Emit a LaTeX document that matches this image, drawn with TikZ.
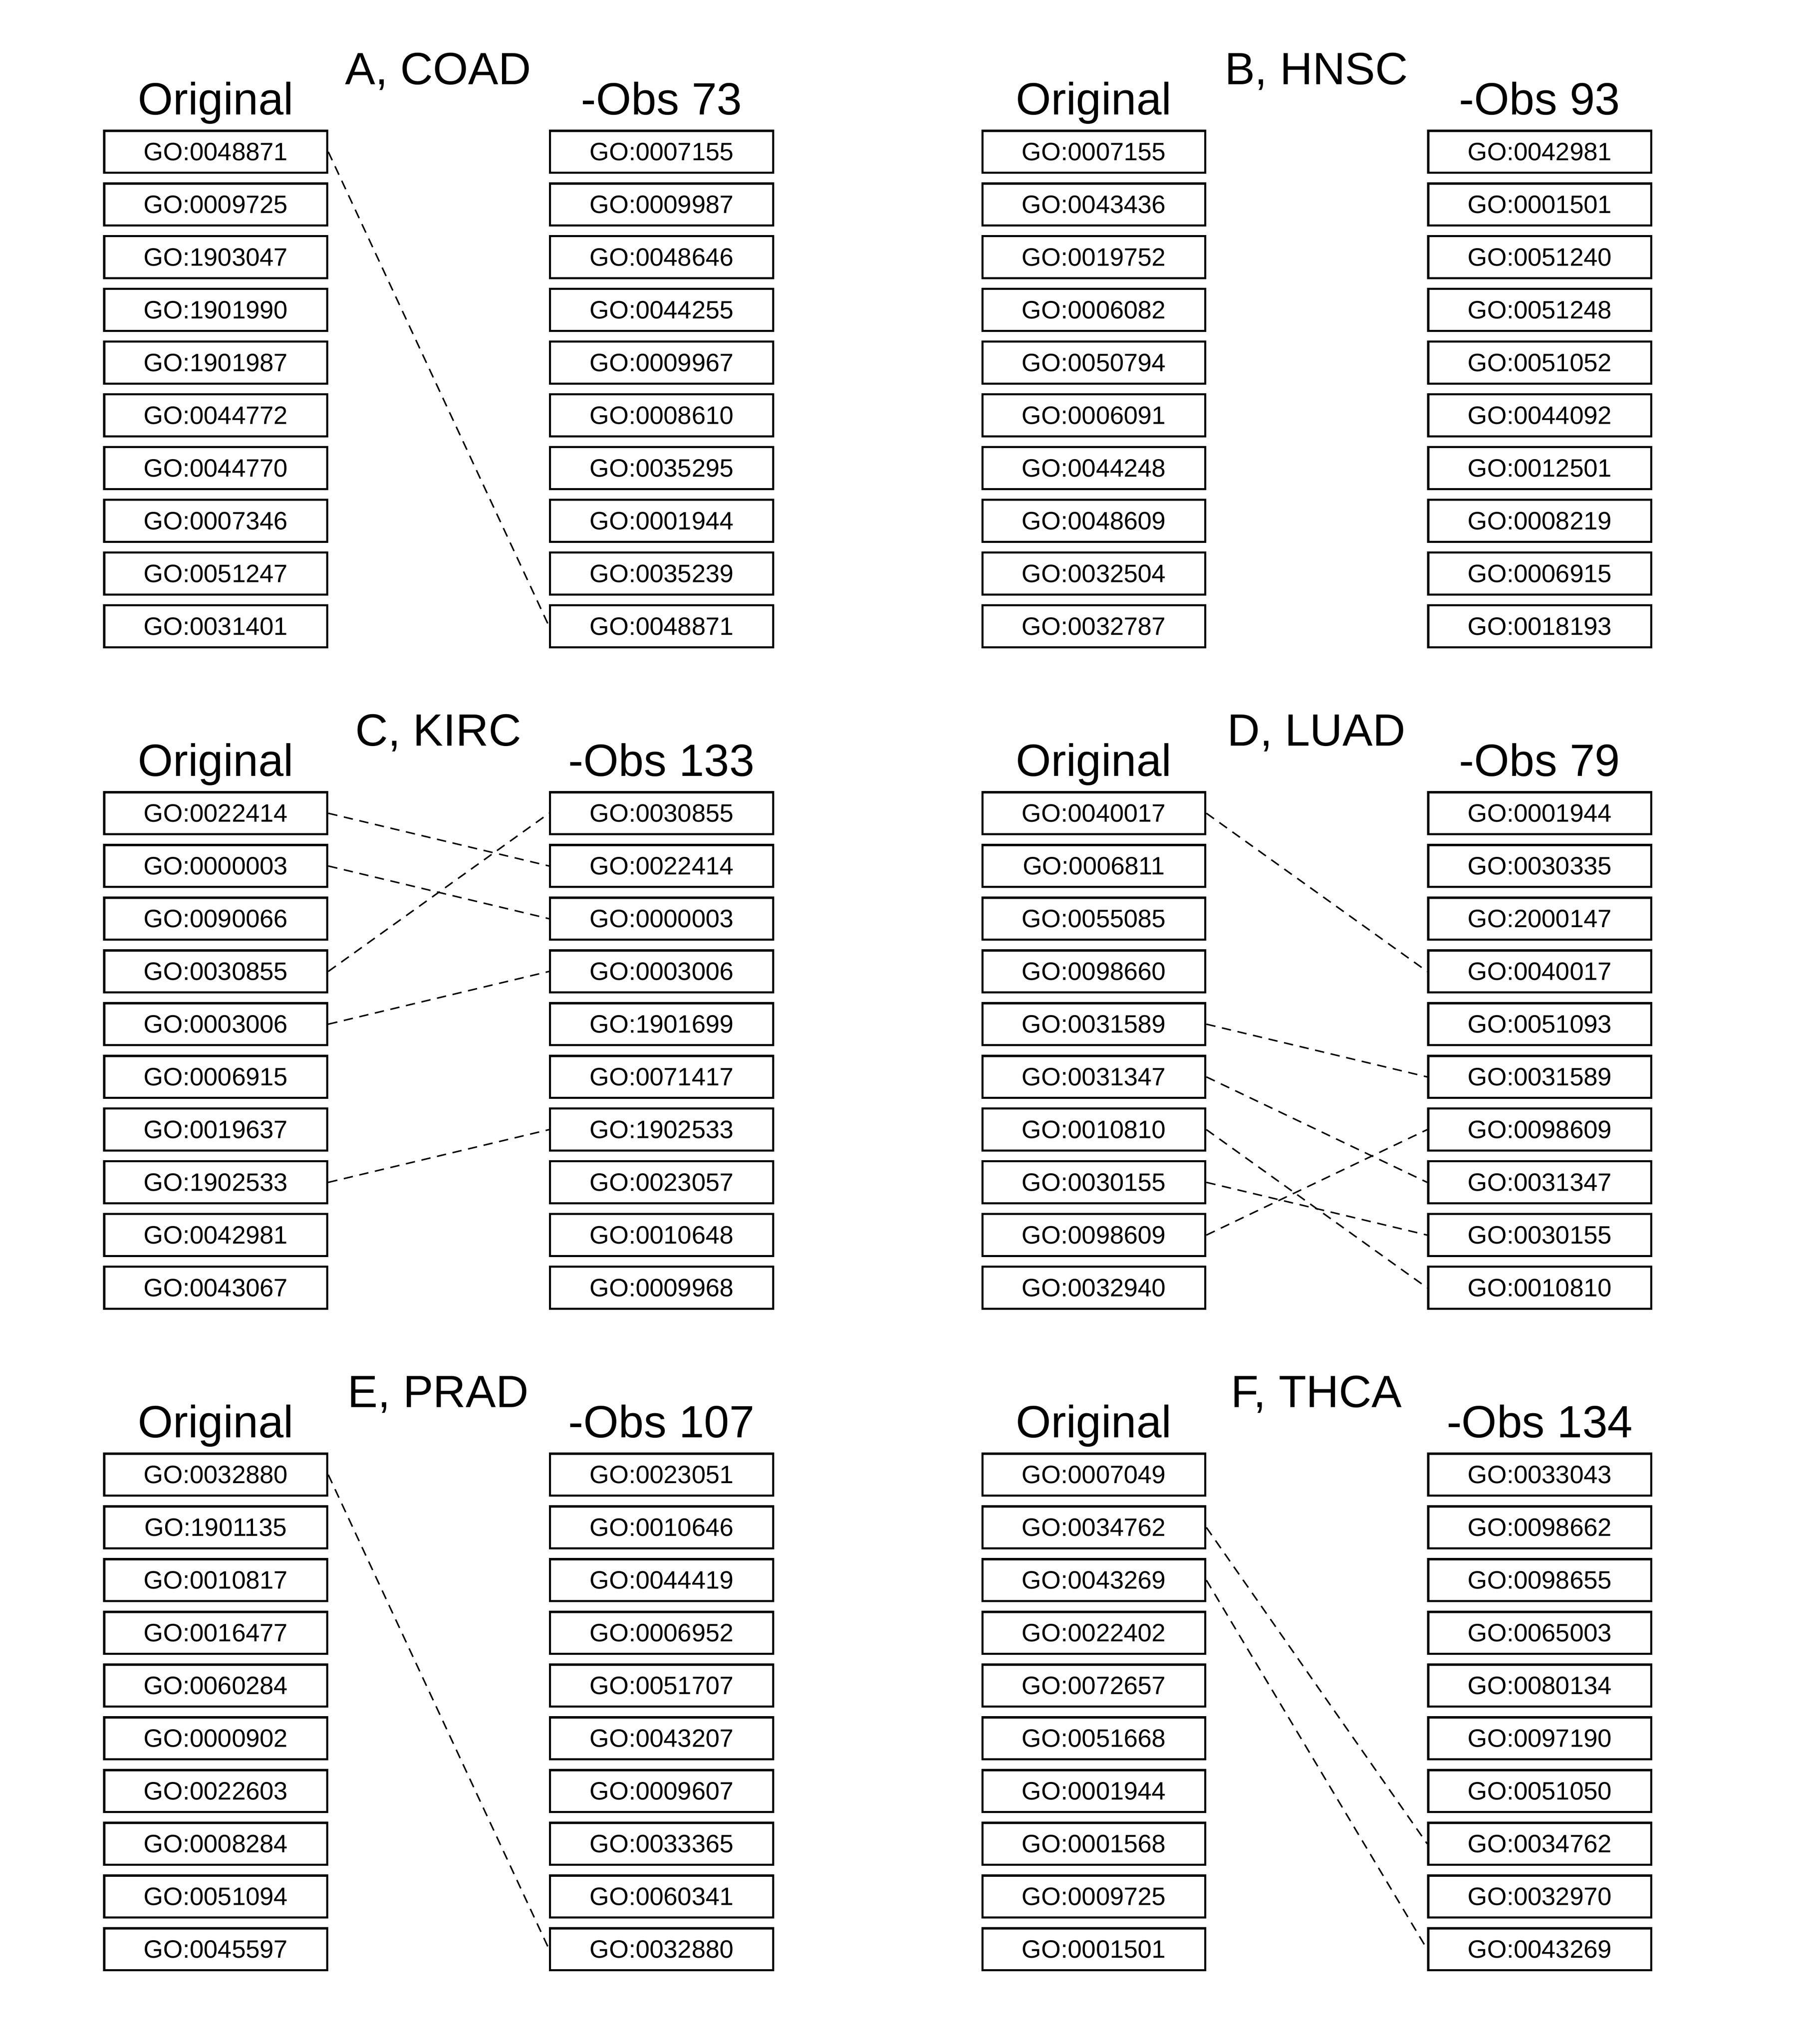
\documentclass[tikz,border=0pt]{standalone}
\usepackage{fontspec}
\setmainfont{Liberation Sans}
\begin{document}
\begin{tikzpicture}[
  gobox/.style={draw, line width=1.6pt, minimum width=5.89cm, minimum height=1.11cm, inner sep=0pt, font=\fontsize{18.9}{21}\selectfont},
  colhead/.style={anchor=base, font=\fontsize{34}{40}\selectfont},
  link/.style={line width=1.1pt, dash pattern=on 7pt off 5pt}]
\useasboundingbox (0,0) rectangle (48,-54);

% A, COAD
\begin{scope}
\node[colhead] (a-title) at (11.58,-2.23) {A, COAD};
\node[colhead] (a-orig) at (5.70,-3.03) {Original};
\node[colhead] (a-obs) at (17.48,-3.03) {-Obs 73};
\foreach \g [count=\i] in {0048871,0009725,1903047,1901990,1901987,0044772,0044770,0007346,0051247,0031401}
  \node[gobox] (a-l\i) at (5.70,{-4.01-1.393*(\i-1)}) {GO:\g};
\foreach \g [count=\i] in {0007155,0009987,0048646,0044255,0009967,0008610,0035295,0001944,0035239,0048871}
  \node[gobox] (a-r\i) at (17.48,{-4.01-1.393*(\i-1)}) {GO:\g};
\draw[link] (a-l1.east) -- (a-r10.west);
\end{scope}

% B, HNSC
\begin{scope}[shift={(23.2,0)}]
\node[colhead] (b-title) at (11.58,-2.23) {B, HNSC};
\node[colhead] (b-orig) at (5.70,-3.03) {Original};
\node[colhead] (b-obs) at (17.48,-3.03) {-Obs 93};
\foreach \g [count=\i] in {0007155,0043436,0019752,0006082,0050794,0006091,0044248,0048609,0032504,0032787}
  \node[gobox] (b-l\i) at (5.70,{-4.01-1.393*(\i-1)}) {GO:\g};
\foreach \g [count=\i] in {0042981,0001501,0051240,0051248,0051052,0044092,0012501,0008219,0006915,0018193}
  \node[gobox] (b-r\i) at (17.48,{-4.01-1.393*(\i-1)}) {GO:\g};
\end{scope}

% C, KIRC
\begin{scope}[shift={(0,-17.475)}]
\node[colhead] (c-title) at (11.58,-2.23) {C, KIRC};
\node[colhead] (c-orig) at (5.70,-3.03) {Original};
\node[colhead] (c-obs) at (17.48,-3.03) {-Obs 133};
\foreach \g [count=\i] in {0022414,0000003,0090066,0030855,0003006,0006915,0019637,1902533,0042981,0043067}
  \node[gobox] (c-l\i) at (5.70,{-4.01-1.393*(\i-1)}) {GO:\g};
\foreach \g [count=\i] in {0030855,0022414,0000003,0003006,1901699,0071417,1902533,0023057,0010648,0009968}
  \node[gobox] (c-r\i) at (17.48,{-4.01-1.393*(\i-1)}) {GO:\g};
\draw[link] (c-l1.east) -- (c-r2.west);
\draw[link] (c-l2.east) -- (c-r3.west);
\draw[link] (c-l4.east) -- (c-r1.west);
\draw[link] (c-l5.east) -- (c-r4.west);
\draw[link] (c-l8.east) -- (c-r7.west);
\end{scope}

% D, LUAD
\begin{scope}[shift={(23.2,-17.475)}]
\node[colhead] (d-title) at (11.58,-2.23) {D, LUAD};
\node[colhead] (d-orig) at (5.70,-3.03) {Original};
\node[colhead] (d-obs) at (17.48,-3.03) {-Obs 79};
\foreach \g [count=\i] in {0040017,0006811,0055085,0098660,0031589,0031347,0010810,0030155,0098609,0032940}
  \node[gobox] (d-l\i) at (5.70,{-4.01-1.393*(\i-1)}) {GO:\g};
\foreach \g [count=\i] in {0001944,0030335,2000147,0040017,0051093,0031589,0098609,0031347,0030155,0010810}
  \node[gobox] (d-r\i) at (17.48,{-4.01-1.393*(\i-1)}) {GO:\g};
\draw[link] (d-l1.east) -- (d-r4.west);
\draw[link] (d-l5.east) -- (d-r6.west);
\draw[link] (d-l6.east) -- (d-r8.west);
\draw[link] (d-l7.east) -- (d-r10.west);
\draw[link] (d-l8.east) -- (d-r9.west);
\draw[link] (d-l9.east) -- (d-r7.west);
\end{scope}

% E, PRAD
\begin{scope}[shift={(0,-34.95)}]
\node[colhead] (e-title) at (11.58,-2.23) {E, PRAD};
\node[colhead] (e-orig) at (5.70,-3.03) {Original};
\node[colhead] (e-obs) at (17.48,-3.03) {-Obs 107};
\foreach \g [count=\i] in {0032880,1901135,0010817,0016477,0060284,0000902,0022603,0008284,0051094,0045597}
  \node[gobox] (e-l\i) at (5.70,{-4.01-1.393*(\i-1)}) {GO:\g};
\foreach \g [count=\i] in {0023051,0010646,0044419,0006952,0051707,0043207,0009607,0033365,0060341,0032880}
  \node[gobox] (e-r\i) at (17.48,{-4.01-1.393*(\i-1)}) {GO:\g};
\draw[link] (e-l1.east) -- (e-r10.west);
\end{scope}

% F, THCA
\begin{scope}[shift={(23.2,-34.95)}]
\node[colhead] (f-title) at (11.58,-2.23) {F, THCA};
\node[colhead] (f-orig) at (5.70,-3.03) {Original};
\node[colhead] (f-obs) at (17.48,-3.03) {-Obs 134};
\foreach \g [count=\i] in {0007049,0034762,0043269,0022402,0072657,0051668,0001944,0001568,0009725,0001501}
  \node[gobox] (f-l\i) at (5.70,{-4.01-1.393*(\i-1)}) {GO:\g};
\foreach \g [count=\i] in {0033043,0098662,0098655,0065003,0080134,0097190,0051050,0034762,0032970,0043269}
  \node[gobox] (f-r\i) at (17.48,{-4.01-1.393*(\i-1)}) {GO:\g};
\draw[link] (f-l2.east) -- (f-r8.west);
\draw[link] (f-l3.east) -- (f-r10.west);
\end{scope}
\end{tikzpicture}
\end{document}
